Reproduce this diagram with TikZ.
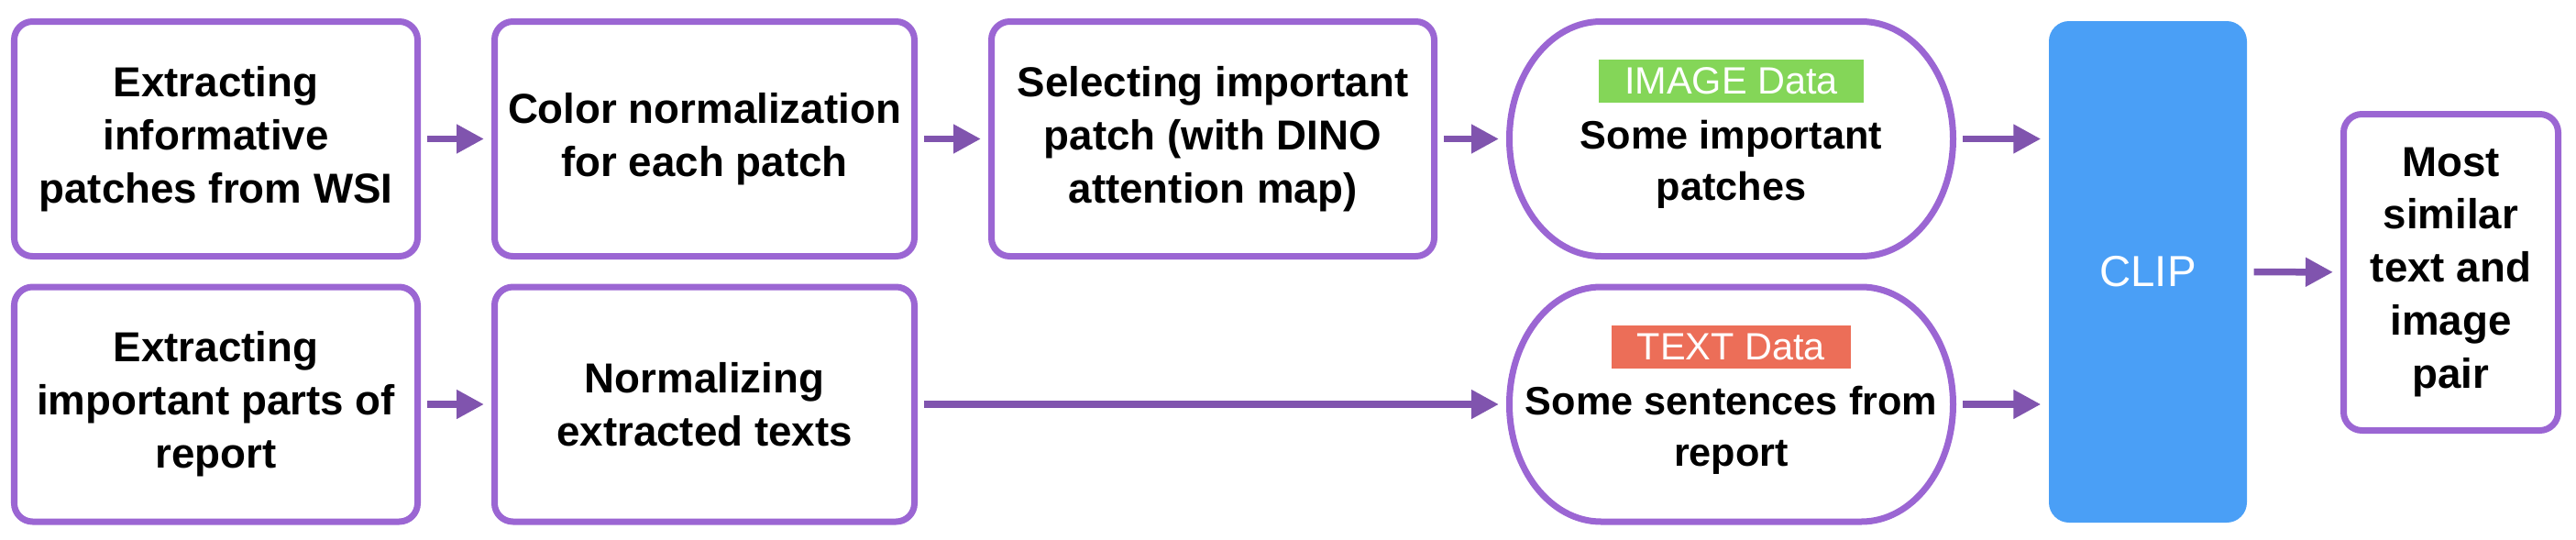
\documentclass[tikz,border=0pt]{standalone}
\usepackage{fontspec}
\setmainfont{Liberation Sans}
\usetikzlibrary{arrows.meta}
\definecolor{boxpurple}{RGB}{155,102,211}
\definecolor{arrowpurple}{RGB}{128,84,174}
\definecolor{clipblue}{RGB}{74,159,246}
\definecolor{imggreen}{RGB}{132,214,88}
\definecolor{txtred}{RGB}{236,110,88}
\begin{document}
\begin{tikzpicture}[font=\fontsize{13}{16.5}\selectfont\bfseries,
		stage/.style={draw=boxpurple, line width=0.07cm, rounded corners=0.2cm, align=center, minimum height=2.56cm, inner sep=0pt},
		dataframe/.style={minimum width=4.84cm, minimum height=2.56cm, inner sep=0pt, outer sep=0.035cm},
		datatext/.style={align=center, inner sep=0pt, font=\fontsize{12.3}{15.9}\selectfont\bfseries},
		datatag/.style={fill=#1, text=white, inner xsep=0.28cm, inner ysep=0pt, minimum height=0.47cm, font=\fontsize{11.8}{14}\selectfont\mdseries},
		ovalline/.style={draw=boxpurple, line width=0.07cm},
		flow/.style={draw=arrowpurple, line width=0.075cm, -{Triangle[length=0.3cm,width=0.3cm]}, shorten <=0.07cm, shorten >=0.08cm}]
		\useasboundingbox (0,0) rectangle (28.1,5.88);
		\node[stage, minimum width=4.40cm] (wsi) at (2.355,4.365) {Extracting\\informative\\patches from WSI};
		\node[stage, minimum width=4.58cm] (colnorm) at (7.685,4.365) {Color normalization\\for each patch};
		\node[stage, minimum width=4.83cm] (select) at (13.23,4.365) {Selecting important\\patch (with DINO\\attention map)};
		\node[dataframe] (imgdata) at (18.885,4.365) {};
		\node[datatag=imggreen] (imgtag) at ([yshift=0.63cm]imgdata.center) {IMAGE Data};
		\node[datatext] (imgtext) at ([yshift=-0.28cm]imgdata.center) {Some important\\patches};
		\draw[ovalline] ([shift={(-1.42,1.28)}]imgdata.center) -- ++(2.84,0) arc[start angle=90, end angle=-90, x radius=1, y radius=1.28] -- ++(-2.84,0) arc[start angle=270, end angle=90, x radius=1, y radius=1.28] -- cycle;
		\node[stage, minimum width=4.40cm] (report) at (2.355,1.47) {Extracting\\important parts of\\report};
		\node[stage, minimum width=4.58cm] (textnorm) at (7.685,1.47) {Normalizing\\extracted texts};
		\node[dataframe] (txtdata) at (18.885,1.47) {};
		\node[datatag=txtred] (txttag) at ([yshift=0.63cm]txtdata.center) {TEXT Data};
		\node[datatext] (txttext) at ([yshift=-0.28cm]txtdata.center) {Some sentences from\\report};
		\draw[ovalline] ([shift={(-1.42,1.28)}]txtdata.center) -- ++(2.84,0) arc[start angle=90, end angle=-90, x radius=1, y radius=1.28] -- ++(-2.84,0) arc[start angle=270, end angle=90, x radius=1, y radius=1.28] -- cycle;
		\node[fill=clipblue, rounded corners=0.22cm, minimum width=2.16cm, minimum height=5.47cm, text=white, font=\fontsize{13.5}{16}\selectfont\mdseries] (clip) at (23.43,2.915) {CLIP};
		\node[stage, minimum width=2.34cm, minimum height=3.45cm] (pair) at (26.735,2.91) {Most\\similar\\text and\\image\\pair};
		\draw[flow] (wsi) -- (colnorm);
		\draw[flow] (colnorm) -- (select);
		\draw[flow] (select) -- (imgdata);
		\draw[flow] (imgdata.east) -- (imgdata.east -| clip.west);
		\draw[flow] (report) -- (textnorm);
		\draw[flow] (textnorm) -- (txtdata);
		\draw[flow] (txtdata.east) -- (txtdata.east -| clip.west);
		\draw[flow] (clip) -- (pair);
	\end{tikzpicture}
\end{document}
